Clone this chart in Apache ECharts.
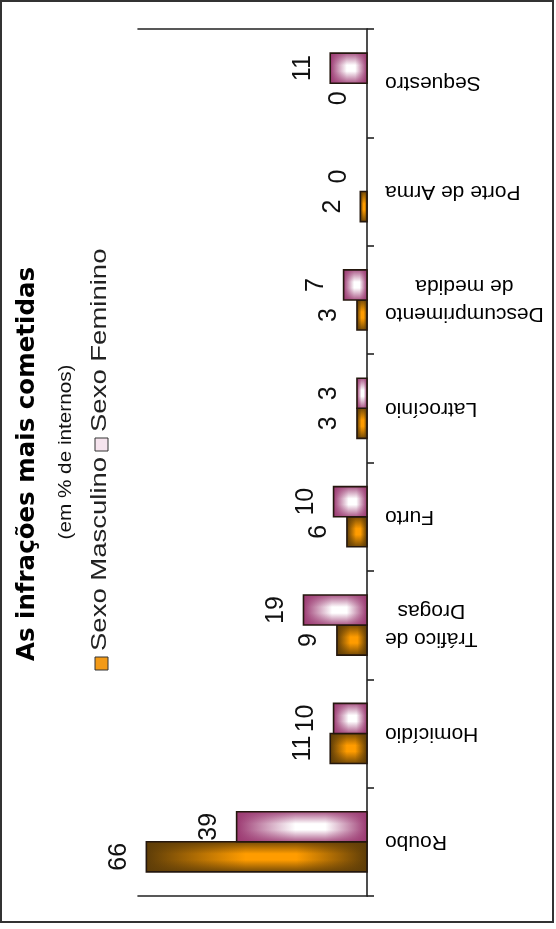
<!DOCTYPE html>
<html>
<head>
<meta charset="utf-8">
<script src="https://cdn.jsdelivr.net/npm/echarts@6/dist/echarts.min.js"></script>
<style>
html,body{margin:0;padding:0;background:#fff;}
#c{width:556px;height:929px;}
</style>
</head>
<body>
<div id="c"></div>
<script>
// ---- data ----
const categories = ['Roubo', 'Homicídio', 'Tráfico de\nDrogas', 'Furto', 'Latrocínio', 'Descumprimento\nde medida', 'Porte de Arma', 'Sequestro'];
const masculino = [66, 11, 9, 6, 3, 3, 2, 0];
const feminino = [39, 10, 19, 10, 3, 7, 0, 11];
const seriesNames = ['Sexo Masculino', 'Sexo Feminino'];
const titleText = 'As infrações mais cometidas';
const subtitleText = '(em % de internos)';

// ---- styles ----
const ORANGE_EDGE = '#5e3d08';
const ORANGE_CENTER = '#ff9c00';
const PINK_EDGE = '#9c3a72';
const PINK_CENTER = '#ffffff';

function hexToRgba(hex, a) {
  const n = parseInt(hex.slice(1), 16);
  return 'rgba(' + ((n >> 16) & 255) + ',' + ((n >> 8) & 255) + ',' + (n & 255) + ',' + a + ')';
}

function makeRender(edge, center, side) {
  return function (params, api) {
    const v = api.value(0);
    const c = api.value(1);
    const p0 = api.coord([0, c]);
    const p1 = api.coord([v, c]);
    const band = api.size([0, 1])[1];
    const bw = band * 0.277;
    const yc = p0[1] + side * bw / 2;
    const x0 = Math.min(p0[0], p1[0]);
    const w = Math.abs(p1[0] - p0[0]);
    const y0 = yc - bw / 2;
    const shape = { x: x0, y: y0, width: w, height: bw };
    const children = [];
    if (w > 0.5) {
      children.push({
        type: 'rect', shape: shape,
        style: { fill: { type: 'linear', x: 0, y: 0, x2: 1, y2: 0, colorStops: [
          { offset: 0, color: edge }, { offset: 0.45, color: center },
          { offset: 0.68, color: center }, { offset: 1, color: edge }] } }
      });
      children.push({
        type: 'rect', shape: shape,
        style: { fill: { type: 'linear', x: 0, y: 0, x2: 0, y2: 1, colorStops: [
          { offset: 0, color: hexToRgba(edge, 0.85) }, { offset: 0.4, color: hexToRgba(edge, 0) },
          { offset: 0.6, color: hexToRgba(edge, 0) }, { offset: 1, color: hexToRgba(edge, 0.85) }] } }
      });
      children.push({
        type: 'rect', shape: shape,
        style: { fill: 'none', stroke: '#24170e', lineWidth: 1.6 }
      });
    }
    children.push({
      type: 'text', x: x0 - 15, y: yc, rotation: Math.PI / 2,
      style: { text: String(v), fontSize: 25, fontFamily: 'Liberation Sans', fill: '#111',
        align: 'center', verticalAlign: 'bottom', textAlign: 'center', textVerticalAlign: 'bottom' }
    });
    return { type: 'group', children: children };
  };
}

const axisLineStyle = { color: '#222', width: 1.6 };
const xAxisCommon = {
  type: 'value', inverse: true, min: 0, max: 68.5,
  axisLine: { show: true, onZero: false, lineStyle: axisLineStyle },
  axisTick: { show: false }, axisLabel: { show: false }, splitLine: { show: false }
};

const chart = echarts.init(document.getElementById('c'), null, { renderer: 'canvas' });
chart.setOption({
  backgroundColor: '#ffffff',
  animation: false,
  grid: { left: 138, right: 189, top: 29, bottom: 33, containLabel: false, outerBoundsMode: 'none' },
  xAxis: [
    Object.assign({ position: 'bottom' }, xAxisCommon),
    Object.assign({ position: 'top' }, xAxisCommon)
  ],
  yAxis: {
    type: 'category', data: categories, position: 'right',
    axisLine: { show: true, onZero: false, lineStyle: axisLineStyle },
    axisTick: { show: true, length: 7, inside: false, alignWithLabel: false, lineStyle: axisLineStyle },
    splitLine: { show: false },
    axisLabel: {
      interval: 0, rotate: 180, margin: 18,
      formatter: function (v) { return v.split('\n').map(function (s) { return '{c|' + s + '}'; }).join('\n'); },
      rich: { c: { align: 'center', fontSize: 21, fontFamily: 'Liberation Sans', color: '#000', lineHeight: 28 } }
    }
  },
  series: [
    {
      type: 'custom', name: seriesNames[0], xAxisIndex: 0, yAxisIndex: 0, clip: false,
      encode: { x: 0, y: 1 },
      renderItem: makeRender(ORANGE_EDGE, ORANGE_CENTER, 1),
      data: masculino.map(function (v, i) { return [v, i]; })
    },
    {
      type: 'custom', name: seriesNames[1], xAxisIndex: 0, yAxisIndex: 0, clip: false,
      encode: { x: 0, y: 1 },
      renderItem: makeRender(PINK_EDGE, PINK_CENTER, -1),
      data: feminino.map(function (v, i) { return [v, i]; })
    }
  ],
  graphic: [
    { type: 'rect', silent: true, z: 100, shape: { x: 1, y: 1, width: 552, height: 921 },
      style: { fill: 'none', stroke: '#333', lineWidth: 2 } },
    { type: 'text', x: 28, y: 464, rotation: Math.PI / 2,
      style: { text: titleText, fontSize: 24.5, fontWeight: 'bold', fontFamily: 'DejaVu Sans', fill: '#000',
        align: 'center', verticalAlign: 'middle', textAlign: 'center', textVerticalAlign: 'middle' } },
    { type: 'text', x: 66, y: 452, rotation: Math.PI / 2, scaleX: 1.15,
      style: { text: subtitleText, fontSize: 18, fontFamily: 'Liberation Sans', fill: '#111',
        align: 'center', verticalAlign: 'middle', textAlign: 'center', textVerticalAlign: 'middle' } },
    { type: 'group', x: 102, y: 458, rotation: Math.PI / 2, children: [
      { type: 'rect', shape: { x: -212, y: -7, width: 13, height: 13 },
        style: { fill: '#f39a17', stroke: '#333', lineWidth: 1 } },
      { type: 'text', x: -193, y: -2, scaleX: 1.25,
        style: { text: seriesNames[0], fontSize: 22, fontFamily: 'Liberation Sans', fill: '#222',
          align: 'left', verticalAlign: 'middle', textAlign: 'left', textVerticalAlign: 'middle' } },
      { type: 'rect', shape: { x: 7, y: -7, width: 13, height: 13 },
        style: { fill: '#f6e4ee', stroke: '#333', lineWidth: 1 } },
      { type: 'text', x: 26, y: -2, scaleX: 1.25,
        style: { text: seriesNames[1], fontSize: 22, fontFamily: 'Liberation Sans', fill: '#222',
          align: 'left', verticalAlign: 'middle', textAlign: 'left', textVerticalAlign: 'middle' } }
    ] }
  ]
});
</script>
</body>
</html>
